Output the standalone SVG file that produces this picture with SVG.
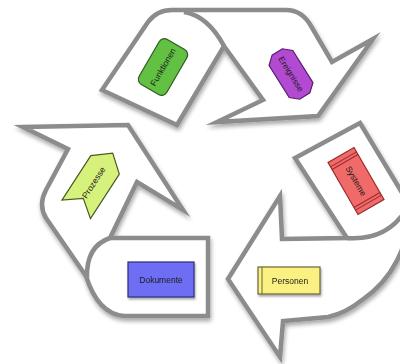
<svg xmlns="http://www.w3.org/2000/svg" width="400" height="364" viewBox="0 0 400 364">
  <defs>
    <filter id="bandShadow" x="-10%" y="-10%" width="120%" height="125%">
      <feGaussianBlur in="SourceAlpha" stdDeviation="2.2" result="b"/>
      <feOffset dx="1" dy="3" result="o"/>
      <feComponentTransfer in="o" result="s"><feFuncA type="linear" slope="0.35"/></feComponentTransfer>
      <feMerge><feMergeNode in="s"/><feMergeNode in="SourceGraphic"/></feMerge>
    </filter>
    <filter id="nodeShadow" x="-20%" y="-20%" width="140%" height="150%">
      <feGaussianBlur in="SourceAlpha" stdDeviation="1.2" result="b"/>
      <feOffset dx="1" dy="2" result="o"/>
      <feComponentTransfer in="o" result="s"><feFuncA type="linear" slope="0.35"/></feComponentTransfer>
      <feMerge><feMergeNode in="s"/><feMergeNode in="SourceGraphic"/></feMerge>
    </filter>
  </defs>
  <style>
    .band { fill: #ffffff; stroke: #8c8c8c; stroke-width: 4.5; stroke-linejoin: miter; stroke-miterlimit: 12; }
    .fold { fill: none; stroke: #8c8c8c; stroke-width: 4.5; stroke-linecap: butt; }
    .lbl { font-family: "Liberation Sans", Arial, sans-serif; font-size: 8.5px; text-anchor: middle; fill: #1a1a1a; }
  </style>
  <rect width="400" height="364" fill="#ffffff"/>

  <!-- recycling arrows -->
  <g id="connectors" filter="url(#bandShadow)">
    <!-- top arrow: Funktionen -> Ereignisse -->
    <path class="band" d="M 102,90 L 177,125 L 224,46 L 263,100 L 217,122 L 318,116 L 373,39 L 332,62 L 311,26 Q 302,10 286,10 L 172,10 Q 157,10 148,22 Z"/>
    <path class="fold" d="M 224,46 Q 208,16 184,12"/>
    <!-- right arrow: Systeme -> Personen -->
    <path class="band" d="M 228,279 L 280,196 L 282,239 L 347,238 L 295,158 L 360,123 L 398,186 L 410,206 C 410,245 392,280 362,300 Q 346,313 328,317 L 283,321 L 280,357 Z"/>
    <path class="fold" d="M 347,238 C 372,240 392,232 406,210"/>
    <!-- left arrow: Dokumente -> Prozesse -->
    <path class="band" d="M 23,127 L 128,125 L 183,210 L 137,182 L 110,238 L 208,238 L 208,316 L 124,316 Q 98,314 86,276 L 46,218 Q 38,205 46,190 L 68,149 Z"/>
    <path class="fold" d="M 110,238 Q 86,246 87,278"/>
  </g>

  <g id="funktionen" transform="translate(163,67) rotate(-60)">
    <rect x="-26" y="-16" width="52" height="32" rx="6" fill="#62c043" stroke="#2f5a22" stroke-width="1.2"/>
    <text class="lbl" x="0" y="3">Funktionen</text>
  </g>

  <g id="ereignisse" transform="translate(291,74) rotate(58)">
    <polygon points="-19,-14 19,-14 26,-6 26,6 19,14 -19,14 -26,6 -26,-6" fill="#b24ad2" stroke="#5a1c6c" stroke-width="1.2"/>
    <text class="lbl" x="0" y="3">Ereignisse</text>
  </g>

  <g id="systeme" transform="translate(356,181) rotate(60)">
    <rect x="-30" y="-15" width="60" height="30" fill="#f06a6a" stroke="#9a2a2a" stroke-width="1.2"/>
    <g stroke="#9a2a2a" stroke-width="1">
      <line x1="-25" y1="-15" x2="-25" y2="15"/>
      <line x1="-22" y1="-15" x2="-22" y2="15"/>
      <line x1="22" y1="-15" x2="22" y2="15"/>
      <line x1="25" y1="-15" x2="25" y2="15"/>
    </g>
    <text class="lbl" x="0" y="3">Systeme</text>
  </g>

  <g id="prozesse" transform="translate(92,185) rotate(-57)">
    <polygon points="-29,-17 24,-17 38,0 24,17 -29,17 -16,0" fill="#d6f27c" stroke="#4a5a22" stroke-width="1.2"/>
    <text class="lbl" x="3" y="3">Prozesse</text>
  </g>

  <g id="dokumente" filter="url(#nodeShadow)">
    <rect x="128" y="262" width="66" height="35" fill="#6e6ef5" stroke="#2c2c7a" stroke-width="1.2"/>
    <text class="lbl" x="161" y="283" fill="#1a1a5a">Dokumente</text>
  </g>

  <g id="personen" filter="url(#nodeShadow)">
    <rect x="258" y="267" width="62" height="27" fill="#faf182" stroke="#6a6636" stroke-width="1.2"/>
    <line x1="262" y1="267" x2="262" y2="294" stroke="#6a6636" stroke-width="1"/>
    <text class="lbl" x="290" y="284">Personen</text>
  </g>
</svg>
